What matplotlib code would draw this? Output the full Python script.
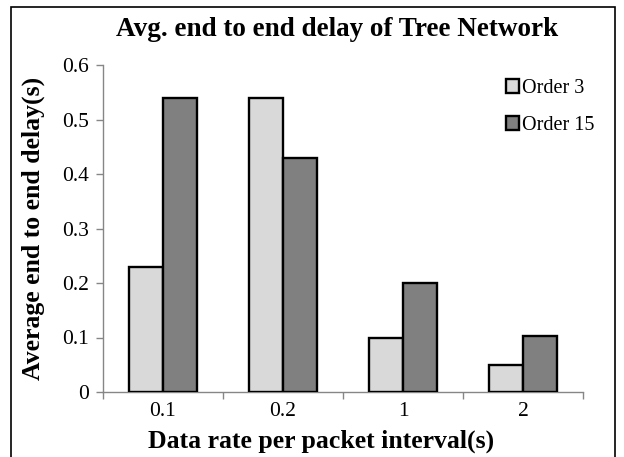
import matplotlib
matplotlib.use("Agg")
import matplotlib.pyplot as plt
import numpy as np
from matplotlib.patches import Rectangle

categories = ["0.1", "0.2", "1", "2"]
order3 = [0.23, 0.54, 0.10, 0.05]
order15 = [0.54, 0.43, 0.20, 0.102]
series_labels = ["Order 3", "Order 15"]
yticks = [0, 0.1, 0.2, 0.3, 0.4, 0.5, 0.6]
ytick_labels = ["0", "0.1", "0.2", "0.3", "0.4", "0.5", "0.6"]

plt.rcParams['font.family'] = ['Liberation Serif', 'DejaVu Serif']

W, H = 624, 457
fig = plt.figure(figsize=(W/100, H/100), dpi=100)
ax = fig.add_axes([103/W, 1-392/H, (583-103)/W, (392-65)/H])

x = np.arange(len(categories))
w = 0.285
ax.bar(x - w/2, order3, w, color="#d9d9d9", edgecolor="black", linewidth=1.7, label=series_labels[0], zorder=3)
ax.bar(x + w/2, order15, w, color="#808080", edgecolor="black", linewidth=1.7, label=series_labels[1], zorder=3)

ax.set_xlim(-0.5, 3.5)
ax.set_ylim(0, 0.6)
ax.set_yticks(yticks)
ax.set_yticklabels(ytick_labels, fontsize=15.5)
ax.set_xticks(x)
ax.set_xticklabels(categories, fontsize=15.5)
ax.set_xticks(np.arange(-0.5, 4, 1), minor=True)
ax.tick_params(axis='x', which='major', length=0, pad=7)
ax.tick_params(axis='x', which='minor', length=5, color="#868686", width=1)
ax.tick_params(axis='y', length=5, color="#868686", width=1, pad=5)
for s in ["top", "right"]:
    ax.spines[s].set_visible(False)
for s in ["left", "bottom"]:
    ax.spines[s].set_color("#868686")
    ax.spines[s].set_linewidth(1)

fig.text(337/W, 1-36/H, "Avg. end to end delay of Tree Network", fontsize=19.5,
         fontweight="bold", ha="center", va="baseline")
fig.text(321/W, 1-448/H, "Data rate per packet interval(s)", fontsize=18.5,
         fontweight="bold", ha="center", va="baseline")
fig.text(33/W, 1-228/H, "Average end to end delay(s)", fontsize=18.5,
         fontweight="bold", ha="center", va="center", rotation=90)

leg = ax.legend(loc="upper left", bbox_to_anchor=(500/W, 1-73/H), bbox_transform=fig.transFigure,
                frameon=False, fontsize=14.5,
                handlelength=0.65, handleheight=0.65, handletextpad=0.12, labelspacing=0.9,
                borderaxespad=0, borderpad=0.3)

fig.patches.append(Rectangle((11/W, -0.01), (615-11)/W, 1 - 7/H + 0.01,
                             transform=fig.transFigure, fill=False, edgecolor="black",
                             linewidth=1.2))

fig.savefig("out.png", dpi=100)
